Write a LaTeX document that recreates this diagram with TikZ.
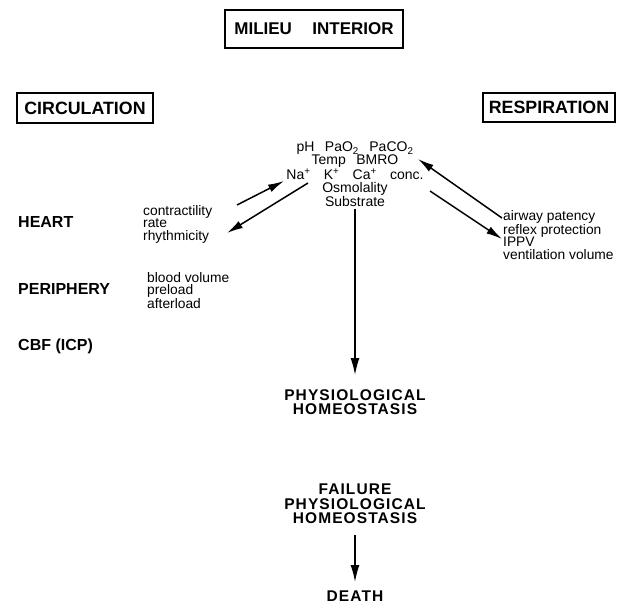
\documentclass[tikz,border=0pt]{standalone}
\usepackage{fontspec}
\setmainfont{Liberation Sans}
\usetikzlibrary{arrows.meta}
\begin{document}
\begin{tikzpicture}[x=1pt,y=-1pt,
    titlebox/.style={draw,line width=1.1pt,inner sep=0pt,font=\bfseries\fontsize{17.8}{17.8}\selectfont},
    sidehead/.style={anchor=west,inner sep=0pt,font=\bfseries\fontsize{16}{16}\selectfont},
    itemlist/.style={anchor=north west,inner sep=0pt,align=left,font=\fontsize{13.8}{12.6}\selectfont},
    bigtext/.style={anchor=north,inner sep=0pt,align=center,
      font=\bfseries\fontsize{15.5}{14.5}\selectfont\addfontfeatures{LetterSpace=7}},
    flow/.style={line width=1.5pt,-{Latex[length=17pt,width=9pt]}},
    flux/.style={line width=1.5pt,-{Latex[length=16pt,width=8pt]}}]
  \useasboundingbox (0,0) rectangle (621,605);

  \node[titlebox,minimum width=178pt,minimum height=38pt,font=\bfseries\fontsize{17}{17}\selectfont] (milieu) at (314,29) {MILIEU\hspace{1.2em}INTERIOR};
  \node[titlebox,minimum width=136pt,minimum height=30pt] (circ) at (85,108) {CIRCULATION};
  \node[titlebox,minimum width=132pt,minimum height=29pt] (resp) at (549,107.5) {RESPIRATION};

  \node[anchor=north,inner sep=0pt,align=center,font=\fontsize{14}{12.8}\selectfont] (chem) at (355,142)
    {pH\hspace{0.75em}PaO\textsubscript{2}\hspace{0.75em}PaCO\textsubscript{2}\\
     Temp\hspace{0.75em}BMRO\\
     Na\textsuperscript{+}\hspace{0.95em}K\textsuperscript{+}\hspace{0.95em}Ca\textsuperscript{+}\hspace{0.95em}conc.\\
     Osmolality\\
     Substrate};

  \node[sidehead] (heart) at (18,222) {HEART};
  \node[sidehead] (periph) at (18,289) {PERIPHERY};
  \node[sidehead] (cbf) at (18,346) {CBF (ICP)};

  \node[itemlist] (heartlist) at (143,205) {contractility\\rate\\rhythmicity};
  \node[itemlist] (periphlist) at (147,272) {blood volume\\preload\\afterload};
  \node[itemlist] (resplist) at (503,210) {airway patency\\reflex protection\\IPPV\\ventilation volume};

  \node[bigtext] (physio) at (355,389) {PHYSIOLOGICAL\\HOMEOSTASIS};
  \node[bigtext] (failure) at (355,484) {FAILURE\\PHYSIOLOGICAL\\HOMEOSTASIS};
  \node[bigtext] (death) at (355,591) {DEATH};

  \coordinate (cu1) at (237,205);
  \coordinate (cu2) at (284,181);
  \coordinate (cl1) at (308,183);
  \coordinate (cl2) at (227,233);
  \coordinate (ru1) at (502,218);
  \coordinate (ru2) at (418,159);
  \coordinate (rl1) at (430,191);
  \coordinate (rl2) at (502,239);

  \draw[flux] (cu1) -- (cu2);
  \draw[flux] (cl1) -- (cl2);
  \draw[flux] (ru1) -- (ru2);
  \draw[flux] (rl1) -- (rl2);

  \draw[flow,shorten <=2pt,shorten >=14pt] (chem) -- (physio);
  \draw[flow,shorten <=11pt,shorten >=9pt] (failure) -- (death);
\end{tikzpicture}
\end{document}
